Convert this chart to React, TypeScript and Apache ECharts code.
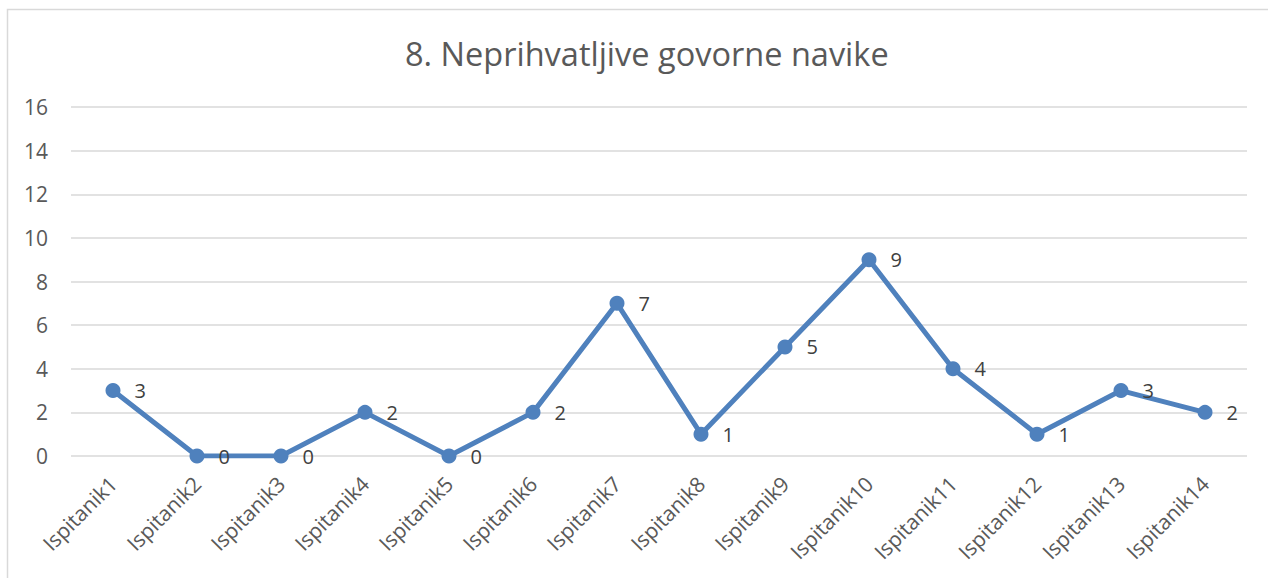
import React, { useEffect, useRef } from "react";
import * as echarts from "echarts";

const categories = [
  "Ispitanik1", "Ispitanik2", "Ispitanik3", "Ispitanik4", "Ispitanik5", "Ispitanik6", "Ispitanik7",
  "Ispitanik8", "Ispitanik9", "Ispitanik10", "Ispitanik11", "Ispitanik12", "Ispitanik13", "Ispitanik14",
];
const values = [3, 0, 0, 2, 0, 2, 7, 1, 5, 9, 4, 1, 3, 2];
const titleText = "8. Neprihvatljive govorne navike";
const yMin = 0;
const yMax = 16;
const yStep = 2;

const FONT = "'Open Sans', 'Noto Sans', sans-serif";

export default function App() {
  const ref = useRef<HTMLDivElement>(null);
  useEffect(() => {
    if (!ref.current) return;
    const chart = echarts.init(ref.current, null, { renderer: "svg" });
    chart.setOption({
      animation: false,
      backgroundColor: "#ffffff",
      title: {
        text: titleText,
        left: 400,
        top: 32,
        textStyle: { fontFamily: FONT, fontSize: 32.5, fontWeight: "normal", color: "#595959" },
      },
      graphic: [
        {
          type: "rect",
          shape: { x: 7.5, y: 9.5, width: 1300, height: 600 },
          style: { fill: "none", stroke: "#d9d9d9", lineWidth: 1.5 },
          silent: true,
        },
      ],
      grid: { left: 71, right: 21, top: 107, bottom: 122, containLabel: false },
      xAxis: {
        type: "category",
        data: categories,
        boundaryGap: true,
        axisLine: { show: false },
        axisTick: { show: false },
        axisLabel: {
          rotate: 45,
          margin: 24,
          interval: 0,
          fontFamily: FONT,
          fontSize: 21,
          color: "#595959",
        },
      },
      yAxis: {
        type: "value",
        min: yMin,
        max: yMax,
        interval: yStep,
        axisLine: { show: false },
        axisTick: { show: false },
        splitLine: { lineStyle: { color: "#d9d9d9", width: 1.5 } },
        axisLabel: { fontFamily: FONT, fontSize: 21, color: "#595959", margin: 23 },
      },
      series: [
        {
          type: "line",
          data: values,
          symbol: "circle",
          symbolSize: 15,
          lineStyle: { color: "#4f81bd", width: 5 },
          itemStyle: { color: "#4f81bd" },
          label: {
            show: true,
            position: "right",
            distance: 14,
            fontFamily: FONT,
            fontSize: 20,
            color: "#404040",
          },
        },
      ],
    });
    return () => chart.dispose();
  }, []);
  return (
    <div
      ref={ref}
      style={{ position: "absolute", left: 0, top: 0, width: 1268, height: 578 }}
    />
  );
}
